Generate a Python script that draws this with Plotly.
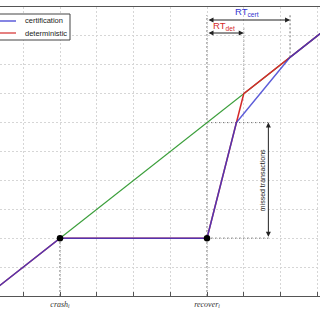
import plotly.graph_objects as go

# ---- data ----
x_range = [1.367, 10.075]
y_range = [0, 10]
label_vals = [3, 7]
label_text = ["<i>crash<sub>i</sub></i>", "<i>recover<sub>i</sub></i>"]

green_x = [3, 11]
green_y = [2, 10]
red_x = [1, 3, 7, 8, 11]
red_y = [0, 2, 2, 7, 10]
blue_x = [1, 3, 7, 7.8, 9.26, 11]
blue_y = [0, 2, 2, 6, 8.26, 10]
event_x = [3, 7]
event_y = [2, 2]

kink_y = 6
rt_det_end = 8
rt_cert_end = 9.26
missed_x = 8.67
missed_line_end = 8.74
rt_cert_y = 9.55
rt_det_y = 9.1
top_guide = 9.72

BLUE = "#3535d0"
RED = "#d42a2a"
GREEN = "#3a9e3a"
DOT = "#707070"
GRID = "#d6d6d6"

fig = go.Figure()
fig.add_trace(go.Scatter(x=green_x, y=green_y, mode="lines",
                         line=dict(color=GREEN, width=1.1), showlegend=False))
fig.add_trace(go.Scatter(x=red_x, y=red_y, mode="lines",
                         line=dict(color=RED, width=1.5), showlegend=False))
fig.add_trace(go.Scatter(x=blue_x, y=blue_y, mode="lines", opacity=0.8,
                         line=dict(color=BLUE, width=1.5), showlegend=False))
fig.add_trace(go.Scatter(x=event_x, y=event_y, mode="markers",
                         marker=dict(color="black", size=6.5), showlegend=False))

shapes = []
def dline(x0, y0, x1, y1):
    shapes.append(dict(type="line", xref="x", yref="y", x0=x0, y0=y0, x1=x1, y1=y1,
                       line=dict(color=DOT, width=1, dash="2px,2px"), layer="below"))

dline(event_x[0], 0, event_x[0], event_y[0])
dline(event_x[1], 0, event_x[1], top_guide)
dline(rt_det_end, 7, rt_det_end, rt_det_y + 0.25)
dline(rt_cert_end, 8.26, rt_cert_end, top_guide)
dline(event_x[1], kink_y, missed_line_end, kink_y)
dline(event_x[1], event_y[1], missed_line_end, event_y[1])

# manual legend
px = lambda v: v / 320
py = lambda v: (296 - v) / 289
shapes.append(dict(type="rect", xref="paper", yref="paper", x0=px(-2), x1=px(70),
                   y0=py(40), y1=py(14), line=dict(color="#444", width=1),
                   fillcolor="white", layer="above"))
shapes.append(dict(type="line", xref="paper", yref="paper", x0=px(0), x1=px(16),
                   y0=py(21), y1=py(21), line=dict(color=BLUE, width=1.2)))
shapes.append(dict(type="line", xref="paper", yref="paper", x0=px(0), x1=px(16),
                   y0=py(33), y1=py(33), line=dict(color=RED, width=1.2)))

annotations = [
    dict(xref="paper", yref="paper", x=px(23), y=py(21), text="certification",
         showarrow=False, xanchor="left", yanchor="middle",
         font=dict(size=7.5, color="#222", family="Liberation Sans")),
    dict(xref="paper", yref="paper", x=px(23), y=py(33), text="deterministic",
         showarrow=False, xanchor="left", yanchor="middle",
         font=dict(size=7.5, color="#222", family="Liberation Sans")),
]

def darrow(x0, y0, x1, y1):
    annotations.append(dict(x=x1, y=y1, ax=x0, ay=y0, xref="x", yref="y",
                            axref="x", ayref="y", text="", showarrow=True,
                            arrowside="end+start", arrowhead=2, arrowsize=1,
                            arrowwidth=1, arrowcolor="#222", standoff=0,
                            startstandoff=0))

darrow(event_x[1], rt_cert_y, rt_cert_end, rt_cert_y)
darrow(event_x[1], rt_det_y, rt_det_end, rt_det_y)
darrow(missed_x, event_y[1], missed_x, kink_y)

annotations.append(dict(x=8.1, y=9.82, xref="x", yref="y", text="RT<sub>cert</sub>",
                        showarrow=False, font=dict(size=9.5, color=BLUE, family="Liberation Sans")))
annotations.append(dict(x=7.47, y=9.33, xref="x", yref="y", text="RT<sub>det</sub>",
                        showarrow=False, font=dict(size=9.5, color=RED, family="Liberation Sans")))
annotations.append(dict(x=8.52, y=4, xref="x", yref="y", text="missed transactions",
                        textangle=-90, showarrow=False,
                        font=dict(size=7, color="#222", family="Liberation Sans")))

fig.update_layout(
    width=320, height=320,
    margin=dict(l=0, r=0, t=7, b=24),
    paper_bgcolor="white", plot_bgcolor="white",
    shapes=shapes, annotations=annotations,
    xaxis=dict(range=x_range, tickvals=label_vals, ticktext=label_text,
               ticks="inside", ticklen=4, tickcolor="#555",
               showline=True, linecolor="#555", linewidth=1.3, mirror=True,
               showgrid=True, gridcolor=GRID, griddash="2px,2px", gridwidth=1,
               zeroline=False,
               minor=dict(tick0=0, dtick=1, ticks="inside", ticklen=4, tickcolor="#555",
                          showgrid=True, gridcolor=GRID, griddash="2px,2px", gridwidth=1),
               tickfont=dict(family="Liberation Serif", size=8, color="#333")),
    yaxis=dict(range=y_range, tick0=0, dtick=1, showticklabels=False,
               showline=False, showgrid=True, gridcolor=GRID,
               griddash="2px,2px", gridwidth=1, zeroline=False, ticks=""),
    showlegend=False,
)

fig.write_html("out.html")
